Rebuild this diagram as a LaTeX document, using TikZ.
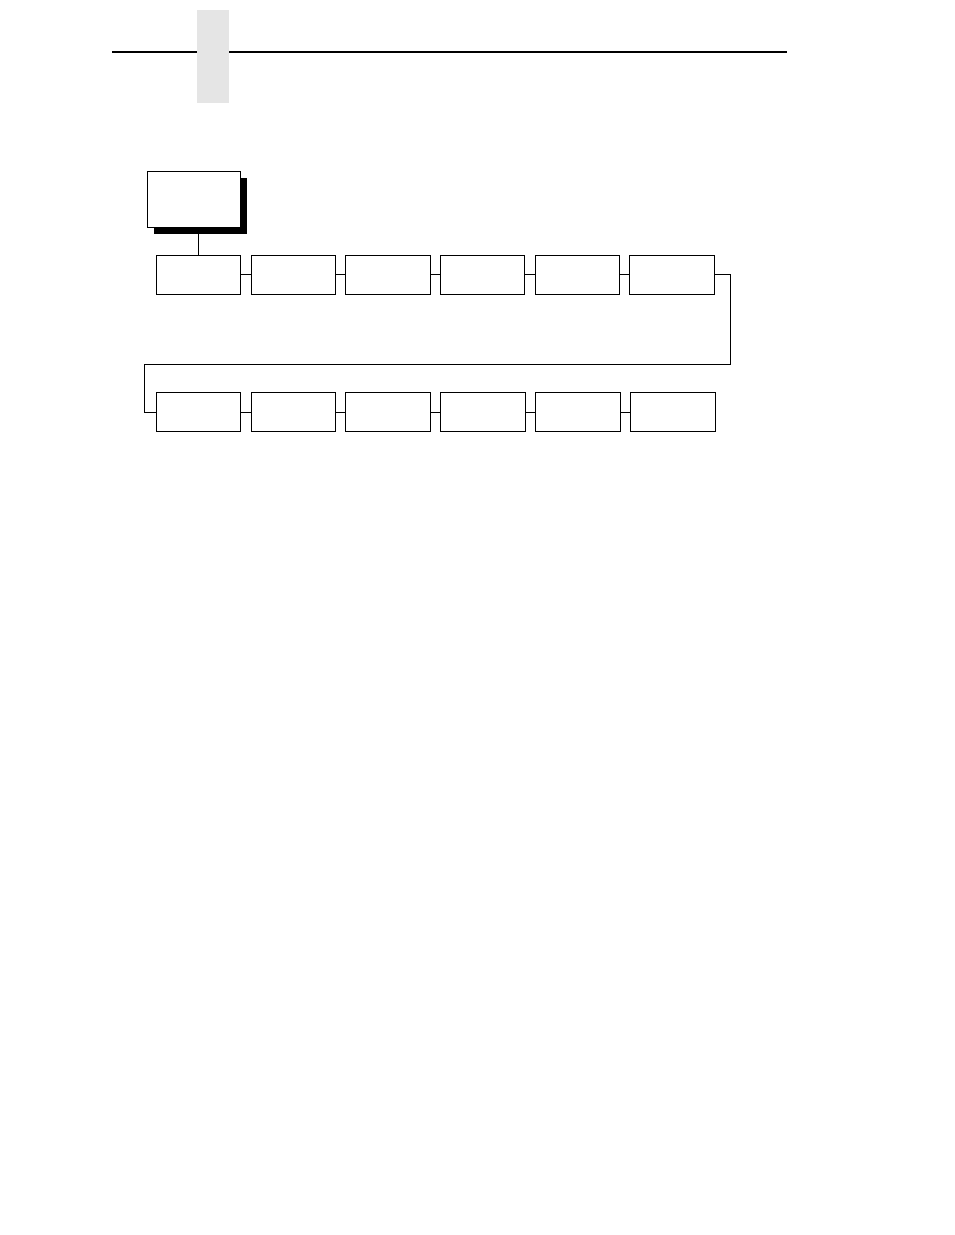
\documentclass[tikz,border=0pt]{standalone}
\usetikzlibrary{shadows}
\tikzset{
  menubox/.style={draw, line width=0.9pt, minimum width=84.5pt, minimum height=39pt, inner sep=0pt},
  topbox/.style={draw, line width=0.9pt, fill=white, minimum width=93pt, minimum height=56pt, inner sep=0pt,
    drop shadow={shadow xshift=6.5pt, shadow yshift=-6.5pt, opacity=1, fill=black}},
  link/.style={line width=0.9pt}
}
\begin{document}
\begin{tikzpicture}[x=1pt, y=-1pt]
    \useasboundingbox (0,0) rectangle (954,1235);
    % page header
    \draw [line width=2pt] (112,52)--(787,52);
    \fill [black!10] (197,10) rectangle (229,103);
    % menu title
    \node [topbox] (top) at (193.8,199.3) {};
    % first row
    \foreach \i in {1,...,6}
      \node [menubox] (a\i) at (198.5+94.7*\i-94.7,274.8) {};
    % second row
    \foreach \i in {1,...,6}
      \node [menubox] (b\i) at (198.3+94.9*\i-94.9,412.2) {};
    \draw [link] (top.south -| a1.north) -- (a1.north);
    \foreach \i [count=\j from 2] in {1,...,5} {
      \draw [link] (a\i.east) -- (a\j.west);
      \draw [link] (b\i.east) -- (b\j.west);
    }
    % wrap to second row
    \coordinate (wrapR) at (730.7,364.3);
    \coordinate (wrapL) at (144.3,364.3);
    \draw [link] (a6.east) -| (wrapR) -- (wrapL) |- (b1.west);
  \end{tikzpicture}
\end{document}
